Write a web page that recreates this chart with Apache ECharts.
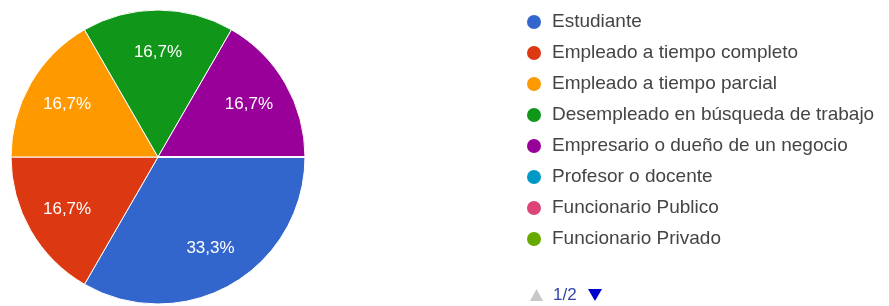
<!DOCTYPE html>
<html>
<head>
<meta charset="utf-8">
<script src="https://cdn.jsdelivr.net/npm/echarts@6/dist/echarts.min.js"></script>
<style>
  html, body { margin: 0; padding: 0; background: #fff; }
  #chart1 { width: 889px; height: 306px; }
</style>
</head>
<body>
<div id="chart1"></div>
<script>
let categories = [
    'Estudiante',
    'Empleado a tiempo completo',
    'Empleado a tiempo parcial',
    'Desempleado en búsqueda de trabajo',
    'Empresario o dueño de un negocio',
    'Profesor o docente',
    'Funcionario Publico',
    'Funcionario Privado',
    'Trabajador independiente',
    'Otro'
];
let counts = [2, 1, 1, 1, 1, 0, 0, 0, 0, 0];
let colors = ['#3366cc', '#dc3912', '#ff9900', '#109618', '#990099', '#0099c6', '#dd4477', '#66aa00', '#b82e2e', '#316395'];
let perPage = 8;

let total = counts.reduce((a, b) => a + b, 0);
let pieData = categories.map((name, i) => ({ name: name, value: counts[i] }));
let pages = Math.ceil(categories.length / perPage);

function pct(v) {
    if (!v) return '';
    return (v / total * 100).toFixed(1).replace('.', ',') + '%';
}

let chart1 = echarts.init(document.getElementById('chart1'));
let option = {
    color: colors,
    animation: false,
    legend: {
        orient: 'vertical',
        left: 520,
        top: 7,
        icon: 'circle',
        itemWidth: 16,
        itemHeight: 16,
        itemGap: 11,
        textStyle: {
            fontFamily: 'Liberation Sans, Arial, sans-serif',
            fontSize: 19,
            lineHeight: 20,
            color: '#444',
            padding: [0, 0, 0, 5]
        },
        data: categories.slice(0, perPage)
    },
    // page switcher under the legend (first page shown)
    graphic: [
        {
            type: 'polygon',
            shape: { points: [[530, 301], [543, 301], [536.5, 289]] },
            style: { fill: '#c8c8c8' }
        },
        {
            type: 'text',
            x: 553,
            y: 295,
            style: {
                text: '1/' + pages,
                fill: '#3344aa',
                font: '17px Liberation Sans, Arial, sans-serif',
                verticalAlign: 'middle'
            }
        },
        {
            type: 'polygon',
            shape: { points: [[588, 289], [602, 289], [595, 301]] },
            style: { fill: '#0000cc' }
        }
    ],
    series: [
        {
            type: 'pie',
            center: [158, 157],
            radius: [0, 147],
            startAngle: 0,
            clockwise: true,
            label: { show: false },
            labelLine: { show: false },
            itemStyle: { borderColor: '#fff', borderWidth: 1 },
            emphasis: { disabled: true },
            data: pieData
        },
        {
            // invisible ring only used to put the percent labels further out
            type: 'pie',
            center: [158, 157],
            radius: [0, 204],
            startAngle: 0,
            clockwise: true,
            silent: true,
            itemStyle: { color: 'rgba(0,0,0,0)' },
            label: {
                show: true,
                position: 'inside',
                color: '#fff',
                fontFamily: 'Liberation Sans, Arial, sans-serif',
                fontSize: 17,
                formatter: p => pct(p.value)
            },
            labelLine: { show: false },
            emphasis: { disabled: true },
            data: pieData
        }
    ]
};
chart1.setOption(option);
</script>
</body>
</html>
